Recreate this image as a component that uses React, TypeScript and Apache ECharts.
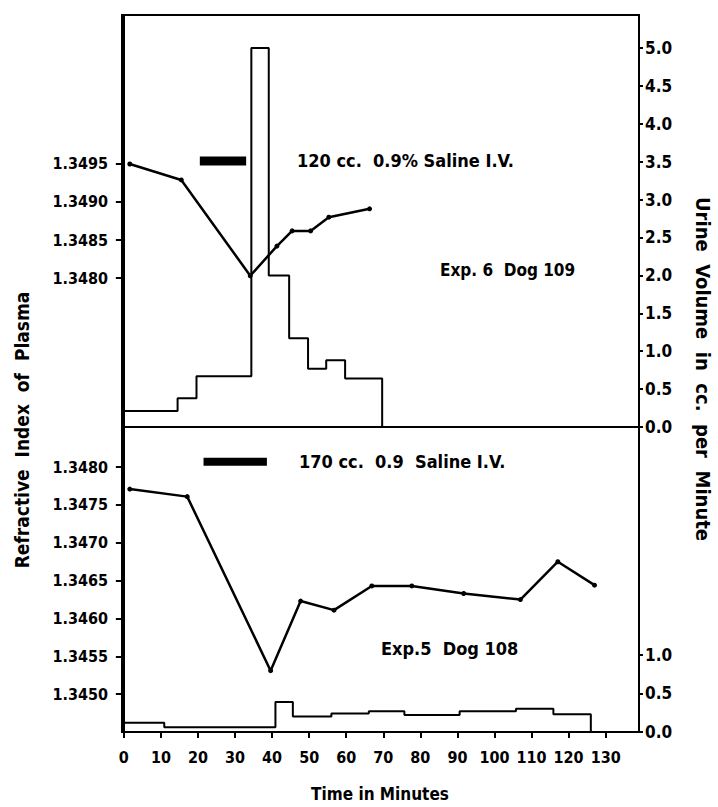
import React, { useEffect, useRef } from "react";
import * as echarts from "echarts";

// ---- Data ----
const timeTicks = [0, 10, 20, 30, 40, 50, 60, 70, 80, 90, 100, 110, 120, 130];

// Exp. 6 Dog 109 (top panel)
const exp6Time = [1.6, 15.5, 34.1, 41.3, 45.4, 50.4, 55.3, 66.3];
const exp6Index = [1.3495, 1.34929, 1.34803, 1.34842, 1.34862, 1.34862, 1.3488, 1.34891];
const exp6UrineStart = [-0.5, 14.5, 19.6, 34.4, 39.1, 44.6, 49.7, 54.6, 59.7, 69.7];
const exp6UrineRate = [0.21, 0.38, 0.67, 5.0, 2.0, 1.17, 0.77, 0.88, 0.64, 0];
const exp6InfusionTime = [20.5, 33];
const exp6InfusionLevel = 1.34954;
const exp6IndexTicks = [1.348, 1.3485, 1.349, 1.3495];
const exp6UrineTicks = [0, 0.5, 1, 1.5, 2, 2.5, 3, 3.5, 4, 4.5, 5];

// Exp. 5 Dog 108 (bottom panel)
const exp5Time = [1.6, 17.1, 39.6, 47.7, 56.7, 66.9, 77.7, 91.7, 107, 117.1, 127];
const exp5Index = [1.34771, 1.34761, 1.34531, 1.34623, 1.34611, 1.34643, 1.34643, 1.34633, 1.34625, 1.34675, 1.34644];
const exp5UrineStart = [-0.5, 10.9, 40.9, 45.6, 56, 66.1, 75.7, 90.6, 105.8, 115.9, 126];
const exp5UrineRate = [0.12, 0.06, 0.39, 0.2, 0.24, 0.27, 0.22, 0.27, 0.3, 0.23, 0];
const exp5InfusionTime = [21.5, 38.6];
const exp5InfusionLevel = 1.34807;
const exp5IndexTicks = [1.345, 1.3455, 1.346, 1.3465, 1.347, 1.3475, 1.348];
const exp5UrineTicks = [0, 0.5, 1];

const FONT = '"DejaVu Sans Condensed", "DejaVu Sans", sans-serif';

const zip = (xs: number[], ys: number[]) => xs.map((x, i) => [x, ys[i]]);

export default function App() {
  const ref = useRef<HTMLDivElement>(null);

  useEffect(() => {
    if (!ref.current) return;
    const chart = echarts.init(ref.current, null, { renderer: "svg" });

    const leftLabel = {
      fontFamily: FONT,
      fontWeight: "bold" as const,
      fontSize: 16,
      color: "#000",
      margin: 14,
      formatter: (v: number) => v.toFixed(4),
    };
    const rightLabel = {
      fontFamily: FONT,
      fontWeight: "bold" as const,
      fontSize: 17,
      color: "#000",
      margin: 6,
      formatter: (v: number) => v.toFixed(1),
    };
    const axisLine = { show: true, lineStyle: { color: "#000", width: 2 } };
    const ann = (text: string, x: number, y: number, fontSize: number) => ({
      type: "text", x, y,
      style: { text, fontFamily: FONT, fontWeight: "bold", fontSize, fill: "#000", textAlign: "left", textVerticalAlign: "middle" },
    });

    const option: any = {
      animation: false,
      backgroundColor: "#fff",
      grid: [
        { left: 122, right: 79, top: 15, height: 412, show: true, borderColor: "#000", borderWidth: 2, backgroundColor: "transparent" },
        { left: 122, right: 79, top: 427, height: 305, show: true, borderColor: "#000", borderWidth: 2, backgroundColor: "transparent" },
      ],
      xAxis: [
        {
          type: "value", gridIndex: 0, min: -0.5, max: 139,
          axisLine, axisTick: { show: false }, axisLabel: { show: false }, splitLine: { show: false },
        },
        {
          type: "value", gridIndex: 1, min: -0.5, max: 139,
          axisLine,
          axisTick: { show: true, length: 6, lineStyle: { color: "#000", width: 2 }, customValues: timeTicks },
          axisLabel: {
            fontFamily: FONT, fontWeight: "bold", fontSize: 16, color: "#000", margin: 17,
            customValues: timeTicks, formatter: (v: number) => String(v),
          },
          splitLine: { show: false },
        },
      ],
      yAxis: [
        {
          type: "value", gridIndex: 0, position: "left", min: 1.34604, max: 1.35146,
          axisLine,
          axisTick: { show: true, length: 8, lineStyle: { color: "#000", width: 2 }, customValues: exp6IndexTicks },
          axisLabel: { ...leftLabel, customValues: exp6IndexTicks },
          splitLine: { show: false },
        },
        {
          type: "value", gridIndex: 0, position: "right", min: 0, max: 5.435,
          axisLine,
          axisTick: { show: true, length: 4, lineStyle: { color: "#000", width: 2 }, customValues: exp6UrineTicks },
          axisLabel: { ...rightLabel, customValues: exp6UrineTicks },
          splitLine: { show: false },
        },
        {
          type: "value", gridIndex: 1, position: "left", min: 1.3445, max: 1.34853,
          axisLine,
          axisTick: { show: true, length: 8, lineStyle: { color: "#000", width: 2 }, customValues: exp5IndexTicks },
          axisLabel: { ...leftLabel, customValues: exp5IndexTicks },
          splitLine: { show: false },
        },
        {
          type: "value", gridIndex: 1, position: "right", min: 0, max: 3.95,
          axisLine,
          axisTick: { show: true, length: 4, lineStyle: { color: "#000", width: 2 }, customValues: exp5UrineTicks },
          axisLabel: { ...rightLabel, customValues: exp5UrineTicks },
          splitLine: { show: false },
        },
      ],
      series: [
        {
          name: "Exp6 index", type: "line", xAxisIndex: 0, yAxisIndex: 0,
          data: zip(exp6Time, exp6Index), symbol: "circle", symbolSize: 5,
          lineStyle: { color: "#000", width: 2.5 }, itemStyle: { color: "#000" },
        },
        {
          name: "Exp6 urine", type: "line", xAxisIndex: 0, yAxisIndex: 1, step: "end",
          data: zip(exp6UrineStart, exp6UrineRate), symbol: "none",
          lineStyle: { color: "#000", width: 2 },
        },
        {
          name: "Exp6 infusion", type: "line", xAxisIndex: 0, yAxisIndex: 0,
          data: exp6InfusionTime.map((t) => [t, exp6InfusionLevel]), symbol: "none",
          lineStyle: { color: "#000", width: 9, cap: "butt" },
        },
        {
          name: "Exp5 index", type: "line", xAxisIndex: 1, yAxisIndex: 2,
          data: zip(exp5Time, exp5Index), symbol: "circle", symbolSize: 5,
          lineStyle: { color: "#000", width: 2.5 }, itemStyle: { color: "#000" },
        },
        {
          name: "Exp5 urine", type: "line", xAxisIndex: 1, yAxisIndex: 3, step: "end",
          data: zip(exp5UrineStart, exp5UrineRate), symbol: "none",
          lineStyle: { color: "#000", width: 2 },
        },
        {
          name: "Exp5 infusion", type: "line", xAxisIndex: 1, yAxisIndex: 2,
          data: exp5InfusionTime.map((t) => [t, exp5InfusionLevel]), symbol: "none",
          lineStyle: { color: "#000", width: 8, cap: "butt" },
        },
      ],
      graphic: [
        ann("120 cc.  0.9% Saline I.V.", 297, 160, 18),
        ann("Exp. 6  Dog 109", 440, 270, 17),
        ann("170 cc.  0.9  Saline I.V.", 299, 461, 18),
        ann("Exp.5  Dog 108", 381, 648, 18),
        { type: "text", x: 22, y: 430, rotation: Math.PI / 2, style: { text: "Refractive  Index  of  Plasma", fontFamily: FONT, fontWeight: "bold", fontSize: 19, fill: "#000", textAlign: "center", textVerticalAlign: "middle" } },
        { type: "text", x: 703, y: 369, rotation: -Math.PI / 2, style: { text: "Urine  Volume  in  cc.  per  Minute", fontFamily: FONT, fontWeight: "bold", fontSize: 20, fill: "#000", textAlign: "center", textVerticalAlign: "middle" } },
        { type: "text", x: 380, y: 794, style: { text: "Time in Minutes", fontFamily: FONT, fontWeight: "bold", fontSize: 17, fill: "#000", textAlign: "center", textVerticalAlign: "middle" } },
      ],
    };

    chart.setOption(option);
    return () => chart.dispose();
  }, []);

  return (
    <div
      ref={ref}
      style={{ position: "fixed", left: 0, top: 0, width: 718, height: 807, background: "#fff" }}
    />
  );
}
